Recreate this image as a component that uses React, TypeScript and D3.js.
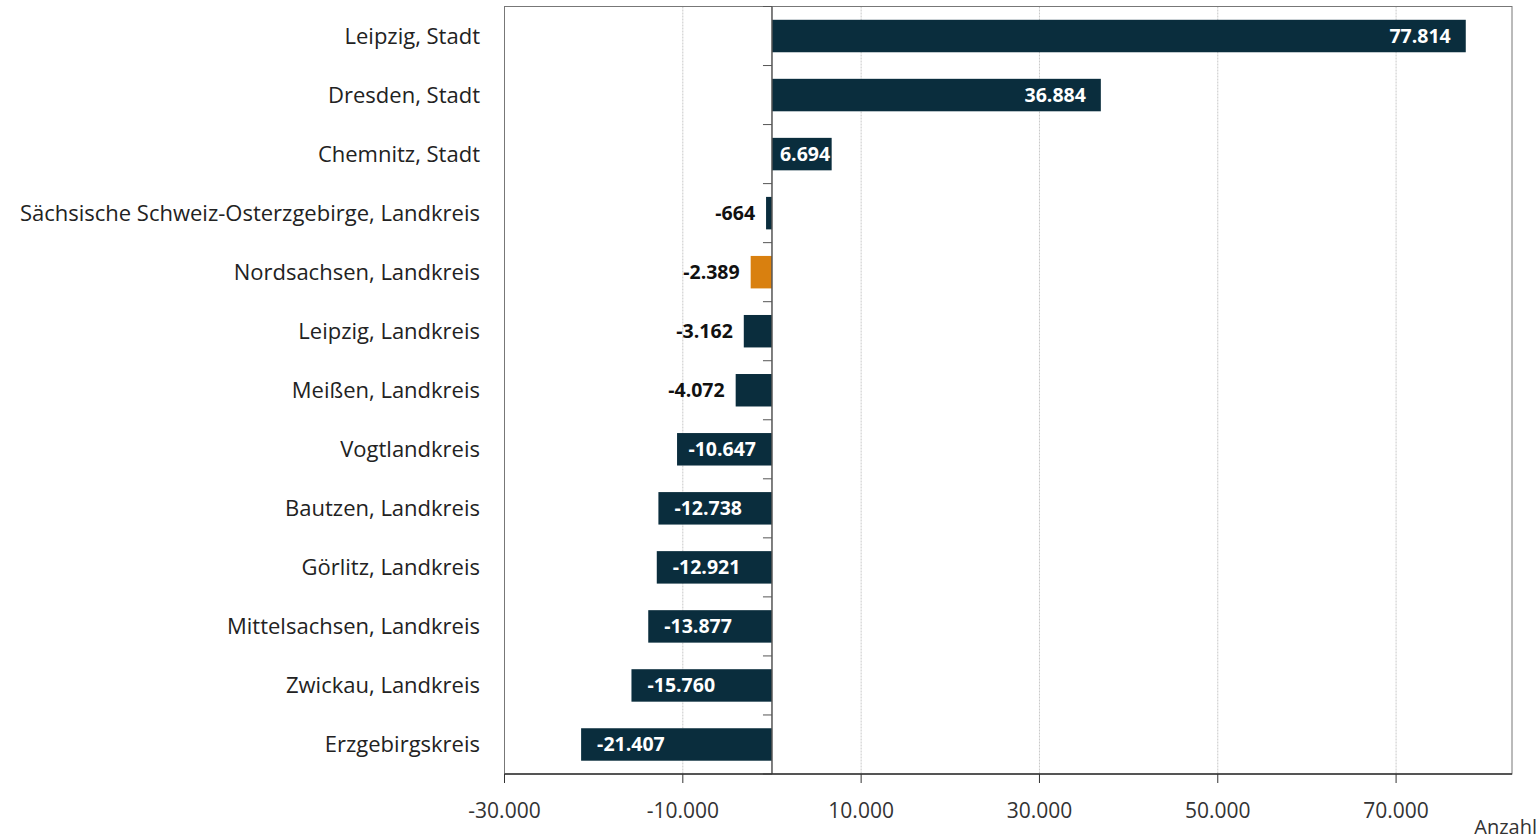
import React from "react";
import * as d3 from "d3";

const categories = [
  "Leipzig, Stadt",
  "Dresden, Stadt",
  "Chemnitz, Stadt",
  "Sächsische Schweiz-Osterzgebirge, Landkreis",
  "Nordsachsen, Landkreis",
  "Leipzig, Landkreis",
  "Meißen, Landkreis",
  "Vogtlandkreis",
  "Bautzen, Landkreis",
  "Görlitz, Landkreis",
  "Mittelsachsen, Landkreis",
  "Zwickau, Landkreis",
  "Erzgebirgskreis",
];
const values = [77814, 36884, 6694, -664, -2389, -3162, -4072, -10647, -12738, -12921, -13877, -15760, -21407];
const highlighted = ["Nordsachsen, Landkreis"];
const xTicks = [-30000, -10000, 10000, 30000, 50000, 70000];
const xDomain = [-30000, 83000];
const axisTitle = "Anzahl";

const W = 1539, H = 840;
const L = 504.5, R = 1512, T = 6.5, B = 774;
const DARK = "#0a2d3d", ORANGE = "#d9800f";
const FONT = "'Open Sans', sans-serif";

const fmt = (v: number) => {
  const s = Math.abs(v).toString().replace(/\B(?=(\d{3})+(?!\d))/g, ".");
  return (v < 0 ? "-" : "") + s;
};

let ctx: CanvasRenderingContext2D | null = null;
const measure = (s: string, size: number, weight: string) => {
  if (!ctx) ctx = document.createElement("canvas").getContext("2d");
  if (!ctx) return s.length * size * 0.6;
  ctx.font = `${weight} ${size}px 'Open Sans', sans-serif`;
  return ctx.measureText(s).width;
};

export default function App() {
  const x = d3.scaleLinear().domain(xDomain).range([L, R]);
  const y = d3.scaleBand<string>().domain(categories).range([T, B]).paddingInner(0.45).paddingOuter(0.225);
  const step = y.step();
  const x0 = x(0);
  const lblSize = 19.5;
  return (
    <svg width={W} height={H} style={{ position: "absolute", left: 0, top: 0, background: "#fff" }} fontFamily={FONT}>
      {/* grid */}
      {xTicks.filter((t) => t !== xDomain[0]).map((t) => (
        <line key={"g" + t} x1={x(t)} x2={x(t)} y1={T} y2={B} stroke="#c8c8c8" strokeWidth={1} strokeDasharray="2,1" />
      ))}
      {/* frame */}
      <rect x={L} y={T} width={R - L} height={B - T} fill="none" stroke="#777" strokeWidth={1} />
      {/* bars */}
      {categories.map((c, i) => {
        const v = values[i];
        const bx = Math.min(x(v), x0);
        const bw = Math.abs(x(v) - x0);
        return (
          <rect key={c} x={bx} y={y(c)} width={bw} height={y.bandwidth()} fill={highlighted.includes(c) ? ORANGE : DARK} />
        );
      })}
      {/* zero axis */}
      <line x1={x0} x2={x0} y1={T} y2={B} stroke="#555" strokeWidth={1.5} />
      {d3.range(categories.length + 1).map((i) => (
        <line key={"yt" + i} x1={x0 - 9} x2={x0} y1={T + i * step} y2={T + i * step} stroke="#555" strokeWidth={1} />
      ))}
      {/* bottom axis */}
      <line x1={L} x2={R} y1={B} y2={B} stroke="#333" strokeWidth={1.5} />
      {xTicks.map((t) => (
        <g key={"xt" + t}>
          <line x1={x(t)} x2={x(t)} y1={B} y2={B + 9} stroke="#333" strokeWidth={1} />
          <text x={x(t)} y={B + 44} textAnchor="middle" fontSize={21} fill="#333">{fmt(t)}</text>
        </g>
      ))}
      <text x={W - 2} y={H - 6} textAnchor="end" fontSize={20} fill="#333">{axisTitle}</text>
      {/* category labels */}
      {categories.map((c) => (
        <text key={"c" + c} x={480} y={(y(c) as number) + y.bandwidth() / 2} dy="0.35em" textAnchor="end" fontSize={22} fill="#222">{c}</text>
      ))}
      {/* value labels */}
      {categories.map((c, i) => {
        const v = values[i];
        const s = fmt(v);
        const tw = measure(s, lblSize, "bold");
        const bw = Math.abs(x(v) - x0);
        const cy = (y(c) as number) + y.bandwidth() / 2;
        if (v > 0) {
          const end = Math.max(x(v) - 15, x0 + 8 + tw);
          return <text key={"v" + c} x={end} y={cy} dy="0.35em" textAnchor="end" fontSize={lblSize} fontWeight="bold" fill="#fff">{s}</text>;
        }
        if (bw > tw + 20) {
          const start = Math.min(x(v) + 16, x0 - 16 - tw);
          return <text key={"v" + c} x={start} y={cy} dy="0.35em" textAnchor="start" fontSize={lblSize} fontWeight="bold" fill="#fff">{s}</text>;
        }
        return <text key={"v" + c} x={x(v) - 11} y={cy} dy="0.35em" textAnchor="end" fontSize={lblSize} fontWeight="bold" fill="#111">{s}</text>;
      })}
    </svg>
  );
}
